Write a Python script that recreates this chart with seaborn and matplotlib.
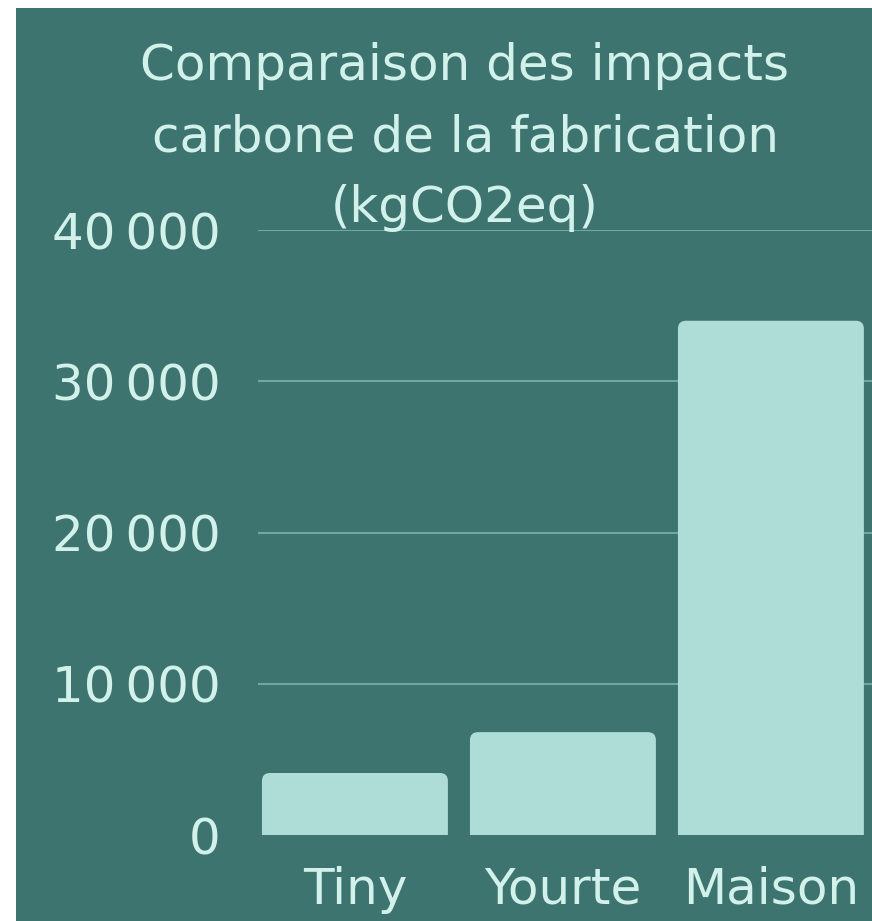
import matplotlib.pyplot as plt
import seaborn as sns
import pandas as pd
from matplotlib.patches import FancyBboxPatch, Rectangle

# --- data ---
categories = ["Tiny", "Yourte", "Maison"]
impacts = [4100, 6800, 34000]          # kgCO2eq
y_ticks = [0, 10000, 20000, 30000, 40000]
title_lines = ["Comparaison des impacts", "carbone de la fabrication", "(kgCO2eq)"]

BG = "#3e746f"
BAR = "#aedcd6"
TXT = "#d2f1eb"
GRID = "#6fa8a1"

sns.set_theme(style="white")
plt.rcParams['font.family'] = ['DejaVu Sans']

W, H = 872, 921
fig = plt.figure(figsize=(W / 100, H / 100), dpi=100)
fig.patch.set_facecolor("white")
# teal card with a thin white margin on the left and top
fig.add_artist(Rectangle((16 / W, 0), 1 - 16 / W, 1 - 8 / H, transform=fig.transFigure,
                         facecolor=BG, edgecolor="none", zorder=0))

ax_left, ax_bottom, ax_w, ax_h = 258, 86, 614, 605
ax = fig.add_axes([ax_left / W, ax_bottom / H, ax_w / W, ax_h / H])
ax.set_facecolor("none")

df = pd.DataFrame({"type": categories, "impact": impacts})
sns.barplot(data=df, x="type", y="impact", color=BAR, width=0.894,
            saturation=1, ax=ax)
xlim = (-0.466, 2.486)
ylim = (0, 40000)
ax.set_xlim(*xlim)
ax.set_ylim(*ylim)

# round the top corners of the bars
px_x = ax_w / (xlim[1] - xlim[0])
px_y = ax_h / (ylim[1] - ylim[0])
aspect = px_x / px_y
r_x = 8 / px_x
r_y = r_x * aspect
for p in list(ax.patches):
    x, w, h = p.get_x(), p.get_width(), p.get_height()
    p.set_visible(False)
    ax.add_patch(FancyBboxPatch((x, -r_y), w, h + r_y,
                                boxstyle=f"round,pad=0,rounding_size={r_x}",
                                mutation_aspect=aspect, facecolor=BAR,
                                edgecolor="none", zorder=2))

ax.set_yticks(y_ticks)
ax.set_yticklabels([f"{v:,}".replace(",", "\u2009") for v in y_ticks])
ax.yaxis.grid(True, color=GRID, linewidth=1.5)
ax.xaxis.grid(False)
ax.set_axisbelow(True)
ax.get_ygridlines()[0].set_visible(False)

ax.tick_params(axis='both', length=0, labelsize=36, labelcolor=TXT)
ax.tick_params(axis='y', pad=27)
ax.tick_params(axis='x', pad=22)
ax.set_xlabel("")
ax.set_ylabel("")
sns.despine(ax=ax, left=True, bottom=True)

# title, one text per line so each keeps its own box
for line, base_px in zip(title_lines, [80, 151, 222]):
    fig.text(465 / W, 1 - base_px / H, line, ha='center', va='baseline',
             fontsize=36, color=TXT)

fig.savefig("out.png", dpi=100)
